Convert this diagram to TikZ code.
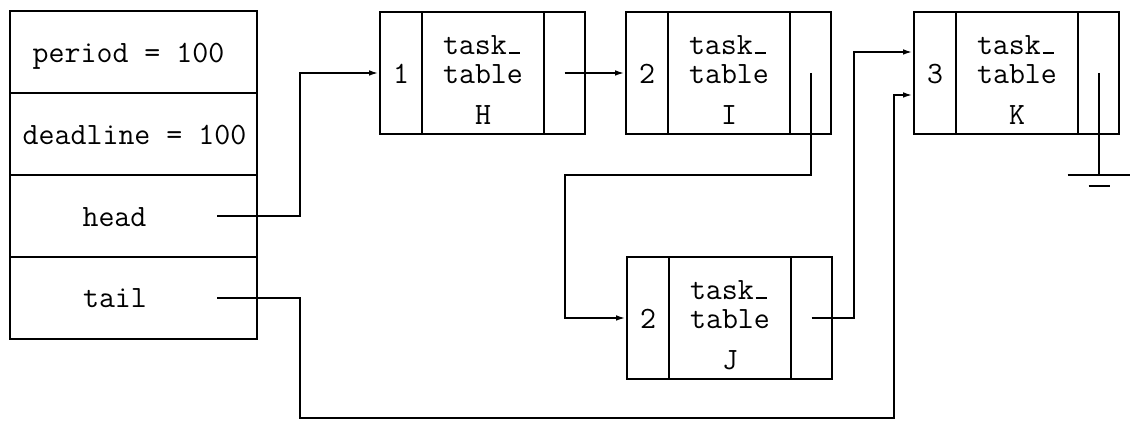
\documentclass[tikz,border=0pt]{standalone}
\usetikzlibrary{arrows.meta,calc}
% typewriter underscore drawn as a short rule on the baseline
\newcommand\ttus{\kern.06em\rule[.04em]{.36em}{.06em}\kern.1em}
% one list element: number cell, body cell, pointer cell
% #1 name, #2 left x, #3 top y, #4 number, #5 letter
\newcommand\listnode[5]{%
  \node[numcell]  (#1-num)  at ({#2+21},{#3+61}) {};
  \node[bodycell] (#1-body) at ({#2+103},{#3+61}) {};
  \node[ptrcell]  (#1-ptr)  at ({#2+184.5},{#3+61}) {};
  \node[txt] (#1-n)  at ({#2+21},{#3+72}) {#4};
  \node[txt] (#1-l1) at ({#2+103},{#3+43}) {task\ttus};
  \node[txt] (#1-l2) at ({#2+103},{#3+72}) {table};
  \node[txt] (#1-l3) at ({#2+103},{#3+113}) {#5};
}
\begin{document}
\begin{tikzpicture}[x=0.5pt,y=-0.5pt,
  line width=1pt,
  every node/.style={font=\fontsize{15.5}{18}\selectfont\ttfamily, inner sep=0pt},
  txt/.style={anchor=base},
  cell/.style={draw, minimum width=123.5pt, minimum height=41pt},
  numcell/.style={draw, minimum width=21pt, minimum height=61pt},
  bodycell/.style={draw, minimum width=61pt, minimum height=61pt},
  ptrcell/.style={draw, minimum width=20.5pt, minimum height=61pt},
  link/.style={-{Latex[length=5pt,width=2.8pt]}}]
\useasboundingbox (0,0) rectangle (1132,421);

% header record
\node[cell] (period)   at (133.5,52)  {};
\node[cell] (deadline) at (133.5,134) {};
\node[cell] (head)     at (133.5,216) {};
\node[cell] (tail)     at (133.5,298) {};
\node[txt] (periodtxt)   at (128.5,63)  {period = 100};
\node[txt] (deadlinetxt) at (134.5,145) {deadline = 100};
\node[txt] (headtxt)     at (114.5,227) {head};
\node[txt] (tailtxt)     at (115,308)   {tail};
\coordinate (headptr) at (217,216);
\coordinate (tailptr) at (217,298);

% list elements
\listnode{H}{380}{12}{1}{H}
\listnode{I}{626}{12}{2}{I}
\listnode{J}{627}{257}{2}{J}
\listnode{K}{914}{12}{3}{K}

\coordinate (Kin1) at ($(K-num.west)+(0,-21)$);
\coordinate (Kin2) at ($(K-num.west)+(0,22)$);

% links
\draw[link] (headptr) -- (300,216) |- (H-num.west);
\draw[link] (H-ptr.center) -- (I-num.west);
\draw[link] (I-ptr.center) |- (565,175) |- (J-num.west);
\draw[link] (J-ptr.center) -| (854,52) -- (Kin1);
\draw[link] (tailptr) -- (300,298) -- (300,418) -| ($(Kin2)+(-19,0)$) -- (Kin2);

% null pointer (ground)
\coordinate (gnd) at ($(K-ptr.center)+(0,102)$);
\draw (K-ptr.center) -- (gnd);
\draw ($(gnd)+(-31,0)$) -- ($(gnd)+(31,0)$);
\draw ($(gnd)+(-10,11)$) -- ($(gnd)+(11,11)$);
\end{tikzpicture}
\end{document}
